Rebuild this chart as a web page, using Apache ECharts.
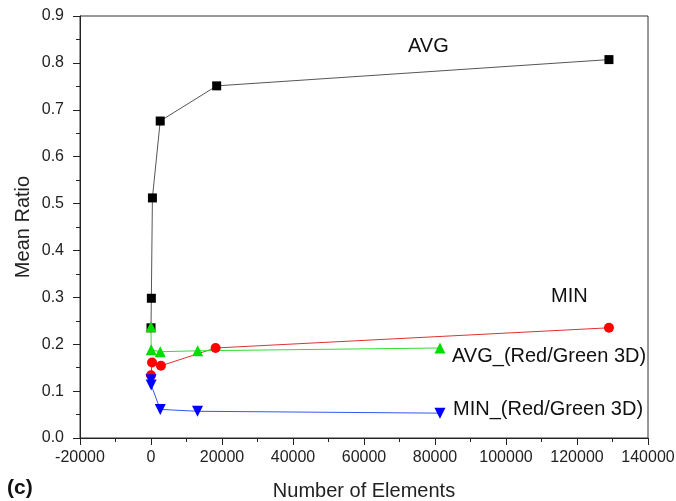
<!DOCTYPE html>
<html><head><meta charset="utf-8">
<script src="https://cdn.jsdelivr.net/npm/echarts@6/dist/echarts.min.js"></script>
<style>html,body{margin:0;padding:0;background:#fff}#c{width:676px;height:501px}</style>
</head><body><div id="c"></div>
<script>
const avgX = [0, 100, 400, 2600, 18500, 129000];
const avgY = [0.235, 0.298, 0.512, 0.676, 0.751, 0.807];
const minX = [0, 300, 2800, 18200, 129000];
const minY = [0.134, 0.161, 0.154, 0.192, 0.235];
const avgRGX = [0, 50, 2600, 13150, 81400];
const avgRGY = [0.237, 0.188, 0.184, 0.186, 0.192];
const minRGX = [0, 50, 2600, 13100, 81400];
const minRGY = [0.124, 0.113, 0.061, 0.057, 0.053];
const xTitle = 'Number of Elements';
const yTitle = 'Mean Ratio';
const seriesLabels = ['AVG', 'MIN', 'AVG_(Red/Green 3D)', 'MIN_(Red/Green 3D)'];

const zip = (a, b) => a.map((v, i) => [v, b[i]]);
const FONT = 'Liberation Sans, Arial, sans-serif';
const chart = echarts.init(document.getElementById('c'), null, {renderer: 'canvas'});
function mk(name, xs, ys, lineColor, markColor, symbol, size) {
  return {
    name, type: 'line', data: zip(xs, ys), symbol, symbolSize: size,
    lineStyle: {color: lineColor, width: 1}, itemStyle: {color: markColor},
    animation: false, z: 3
  };
}
chart.setOption({
  animation: false,
  grid: {left: 80, right: 28, top: 16, bottom: 63, show: true, borderColor: '#333', borderWidth: 1,
    containLabel: false, outerBoundsMode: 'none'},
  xAxis: {
    type: 'value', min: -20000, max: 140000, interval: 20000,
    name: xTitle, nameLocation: 'middle', nameGap: 43, nameMoveOverlap: false,
    nameTextStyle: {fontFamily: FONT, fontSize: 20, color: '#222'},
    axisLine: {onZero: false, lineStyle: {color: '#222', width: 1}},
    axisTick: {inside: false, length: 7, lineStyle: {color: '#222'}},
    minorTick: {show: true, splitNumber: 2, length: 4, lineStyle: {color: '#222'}},
    axisLabel: {fontFamily: FONT, fontSize: 16, color: '#222', margin: 12,
      formatter: v => String(v)},
    splitLine: {show: false}
  },
  yAxis: {
    type: 'value', min: 0, max: 0.9, interval: 0.1,
    name: yTitle, nameLocation: 'middle', nameGap: 47, nameRotate: 90, nameMoveOverlap: false,
    nameTextStyle: {fontFamily: FONT, fontSize: 20, color: '#222'},
    axisLine: {show: true, onZero: false, lineStyle: {color: '#222', width: 1}},
    axisTick: {show: true, inside: false, length: 7, lineStyle: {color: '#222'}},
    minorTick: {show: true, splitNumber: 2, length: 4, lineStyle: {color: '#222'}},
    axisLabel: {fontFamily: FONT, fontSize: 16, color: '#222', margin: 16,
      formatter: v => v.toFixed(1)},
    splitLine: {show: false}
  },
  series: [
    mk(seriesLabels[0], avgX, avgY, '#555', '#000', 'rect', 9),
    mk(seriesLabels[1], minX, minY, '#e03030', '#ff0000', 'circle', 10),
    mk(seriesLabels[2], avgRGX, avgRGY, '#33dd33', '#00dd00', 'triangle', 11),
    mk(seriesLabels[3], minRGX, minRGY, '#3355ee', '#0000ff', 'path://M0,0 L10,0 L5,9 Z', 11)
  ],
  graphic: [
    {type: 'text', left: 408, top: 36, style: {text: seriesLabels[0], font: '20px ' + FONT, fill: '#111'}},
    {type: 'text', left: 551, top: 286, style: {text: seriesLabels[1], font: '20px ' + FONT, fill: '#111'}},
    {type: 'text', left: 452, top: 346, style: {text: seriesLabels[2], font: '20px ' + FONT, fill: '#111'}},
    {type: 'text', left: 453, top: 399, style: {text: seriesLabels[3], font: '20px ' + FONT, fill: '#111'}},
    {type: 'text', left: 7, top: 478, style: {text: '(c)', font: 'bold 21px ' + FONT, fill: '#111'}}
  ]
});
</script></body></html>
